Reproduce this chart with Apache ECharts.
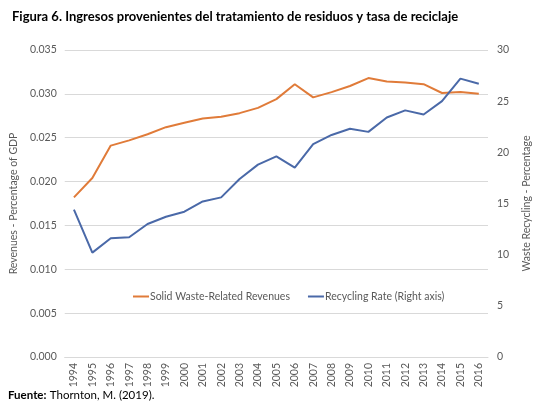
<!DOCTYPE html>
<html><head><meta charset="utf-8">
<script src="https://cdn.jsdelivr.net/npm/echarts@6/dist/echarts.min.js"></script>
<style>html,body{margin:0;padding:0;background:#fff}#c{width:540px;height:411px}</style>
</head><body><div id="c"></div>
<script>
const years = ['1994','1995','1996','1997','1998','1999','2000','2001','2002','2003','2004','2005','2006','2007','2008','2009','2010','2011','2012','2013','2014','2015','2016'];
const revenues = [0.0182,0.0204,0.0241,0.0247,0.0254,0.0262,0.0267,0.0272,0.0274,0.0278,0.0284,0.0294,0.0311,0.0296,0.0302,0.0309,0.0318,0.0314,0.0313,0.0311,0.0301,0.0302,0.0300];
const recycling = [14.4,10.2,11.6,11.7,13.0,13.7,14.2,15.2,15.6,17.4,18.8,19.6,18.5,20.8,21.7,22.3,22.0,23.4,24.1,23.7,25.0,27.2,26.7];
const seriesNames = ['Solid Waste-Related Revenues','Recycling Rate (Right axis)'];
const titleText = 'Figura 6. Ingresos provenientes del tratamiento de residuos y tasa de reciclaje';
const FONT = 'Lato, "Open Sans", sans-serif';
const chart = echarts.init(document.getElementById('c'), null, {renderer:'canvas'});
chart.setOption({
  animation:false,
  textStyle:{fontFamily:FONT},
  title:{text:titleText,left:7,top:5,textStyle:{fontFamily:FONT,fontSize:13,fontWeight:'bold',color:'#000'}},
  graphic:[{type:'text',left:8,top:389,style:{rich:{b:{fontWeight:'bold',fontSize:11.5,fontFamily:FONT,fill:'#000'},n:{fontSize:11.5,fontFamily:FONT,fill:'#000'}},text:'{b|Fuente:} {n|Thornton, M. (2019).}'}}],
  legend:{left:128,top:286,itemWidth:16,itemHeight:2,itemGap:18,icon:'rect',
    textStyle:{fontFamily:FONT,fontSize:10.5,color:'#595959',padding:[0,0,0,-4]},data:seriesNames},
  grid:{left:63,right:43,top:50,bottom:54},
  xAxis:{type:'category',data:years,boundaryGap:true,
    axisLine:{lineStyle:{color:'#d9d9d9'}},axisTick:{show:false},
    axisLabel:{rotate:90,fontSize:10.5,color:'#595959',fontFamily:FONT,margin:6}},
  yAxis:[
    {type:'value',min:0,max:0.035,interval:0.005,position:'left',
     name:'Revenues - Percentage of GDP',nameLocation:'middle',nameGap:42,nameRotate:90,
     nameTextStyle:{fontSize:10.5,color:'#595959',fontFamily:FONT},
     axisLabel:{formatter:v=>v.toFixed(3),fontSize:10.5,color:'#595959',margin:8},
     axisLine:{show:false},axisTick:{show:false},splitLine:{lineStyle:{color:'#d9d9d9'}}},
    {type:'value',min:0,max:30,interval:5,position:'right',
     name:'Waste Recycling - Percentage',nameLocation:'middle',nameGap:33,nameRotate:90,
     nameTextStyle:{fontSize:10.5,color:'#595959',fontFamily:FONT},
     axisLabel:{fontSize:10.5,color:'#595959',margin:9},
     axisLine:{show:false},axisTick:{show:false},splitLine:{show:false}}
  ],
  series:[
    {name:seriesNames[0],type:'line',yAxisIndex:0,data:revenues,symbol:'none',lineStyle:{width:2,color:'#E07B39'},itemStyle:{color:'#E07B39'}},
    {name:seriesNames[1],type:'line',yAxisIndex:1,data:recycling,symbol:'none',lineStyle:{width:2,color:'#4A69A8'},itemStyle:{color:'#4A69A8'}}
  ]
});
</script></body></html>
